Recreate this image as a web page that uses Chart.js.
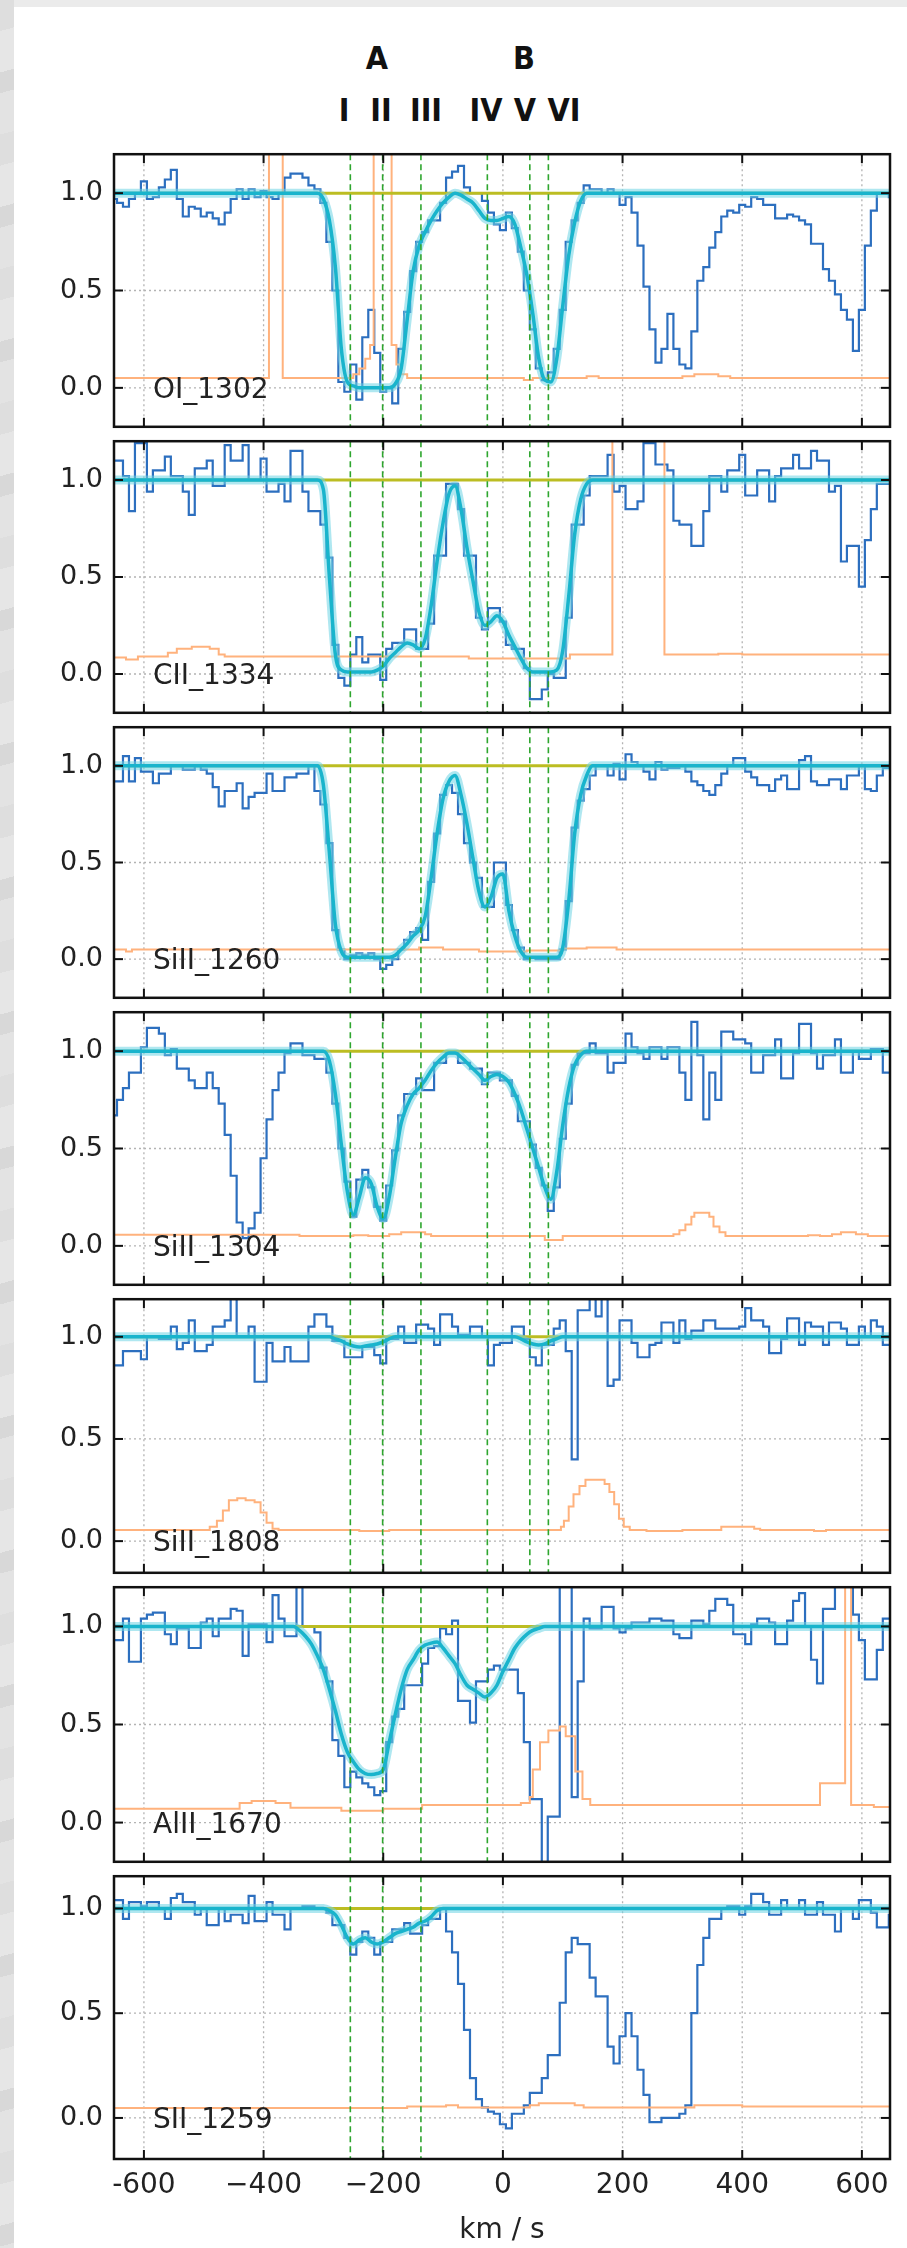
<!DOCTYPE html>
<html>
<head>
<meta charset="utf-8">
<script src="https://cdn.jsdelivr.net/npm/chart.js@4.4.1/dist/chart.umd.min.js"></script>
<style>
  html, body { margin: 0; padding: 0; background: #fff; }
  #page { position: relative; width: 907px; height: 2248px; overflow: hidden; background: #fff; }
  .edge-top { position: absolute; left: 0; top: 0; width: 907px; height: 7px; background: #ebebeb; }
  .edge-left { position: absolute; left: 0; top: 0; width: 14px; height: 2248px;
    background: repeating-linear-gradient(165deg, #dedede 0 30px, #e6e6e6 30px 70px, #d8d8d8 70px 90px, #e3e3e3 90px 130px); }
  .mark { position: absolute; transform: translate(-50%, -50%); font-family: "DejaVu Sans Condensed", "DejaVu Sans", sans-serif;
    font-weight: bold; font-size: 32px; line-height: 1; color: #111; white-space: nowrap; }
  canvas { position: absolute; left: 0; }
</style>
</head>
<body>
<div id="page">
  <div class="edge-top"></div>
  <div class="edge-left"></div>
  <div class="mark" style="left:377px; top:58px;">A</div>
  <div class="mark" style="left:524px; top:58px;">B</div>
  <div class="mark" style="left:344px; top:110px;">I</div>
  <div class="mark" style="left:381px; top:110px;">II</div>
  <div class="mark" style="left:426px; top:110px;">III</div>
  <div class="mark" style="left:486px; top:110px;">IV</div>
  <div class="mark" style="left:525px; top:110px;">V</div>
  <div class="mark" style="left:564px; top:110px;">VI</div>
</div>
<script>
// velocity grid (km/s) shared by all observed spectra
const vel = [
  -650, -640, -630, -620, -610, -600, -590, -580, -570, -560,
  -550, -540, -530, -520, -510, -500, -490, -480, -470, -460,
  -450, -440, -430, -420, -410, -400, -390, -380, -370, -360,
  -350, -340, -330, -320, -310, -300, -290, -280, -270, -260,
  -250, -240, -230, -220, -210, -200, -190, -180, -170, -160,
  -150, -140, -130, -120, -110, -100, -90, -80, -70, -60,
  -50, -40, -30, -20, -10, 0, 10, 20, 30, 40,
  50, 60, 70, 80, 90, 100, 110, 120, 130, 140,
  150, 160, 170, 180, 190, 200, 210, 220, 230, 240,
  250, 260, 270, 280, 290, 300, 310, 320, 330, 340,
  350, 360, 370, 380, 390, 400, 410, 420, 430, 440,
  450, 460, 470, 480, 490, 500, 510, 520, 530, 540,
  550, 560, 570, 580, 590, 600, 610, 620, 630, 640,
  650
];

const xTickValues = [-600, -400, -200, 0, 200, 400, 600];
const xTickLabels = ['-600', '\u2212400', '\u2212200', '0', '200', '400', '600'];
const yTickValues = [0, 0.5, 1.0];
const componentVel = [-255, -201, -137, -26, 45, 76];   // I .. VI
const continuumLevel = 1.0;

// ---- OI 1302 ----
const oiFlux = [
  0.97, 0.95, 0.93, 0.97, 1.0, 1.06, 0.97, 0.98, 1.03, 1.07,
  1.12, 0.97, 0.88, 0.93, 0.92, 0.88, 0.9, 0.87, 0.84, 0.9,
  0.97, 1.02, 0.97, 1.02, 0.98, 1.01, 0.98, 0.97, 1.0, 1.08,
  1.1, 1.1, 1.08, 1.04, 1.02, 0.95, 0.75, 0.5, 0.03, -0.02,
  0.12, -0.06, 0.26, 0.4, 0.18, -0.02, 0.0, -0.08, 0.2, 0.39,
  0.6, 0.75, 0.8, 0.86, 0.86, 0.95, 1.08, 1.11, 1.14, 1.03,
  1.0, 1.0, 0.96, 0.9, 0.84, 0.81, 0.9, 0.82, 0.7, 0.5,
  0.3, 0.1, 0.04, 0.08, 0.2, 0.4, 0.75, 0.86, 0.95, 1.04,
  1.02, 1.02, 1.0, 1.02, 1.0, 0.94, 0.98, 0.9, 0.73, 0.52,
  0.3, 0.13, 0.2, 0.38, 0.2, 0.12, 0.1, 0.29, 0.55, 0.62,
  0.72, 0.8, 0.88, 0.91, 0.9, 0.94, 0.93, 0.98, 0.97, 0.94,
  0.94, 0.87, 0.87, 0.89, 0.88, 0.86, 0.84, 0.74, 0.74, 0.61,
  0.55, 0.48, 0.4, 0.35, 0.19, 0.4, 0.73, 0.91, 1.0, 1.0,
  0.98
];
const oiFit = [
  1.0, 0.97, 0.86, 0.62, 0.2, 0.03, 0.01, 0.0, 0.0, 0.0,
  0.0, 0.0, 0.0, 0.02, 0.1, 0.35, 0.6, 0.73, 0.8, 0.86,
  0.91, 0.95, 0.98, 1.0, 0.99, 0.97, 0.95, 0.91, 0.87, 0.86,
  0.86, 0.87, 0.88, 0.84, 0.72, 0.58, 0.38, 0.15, 0.04, 0.03,
  0.15, 0.42, 0.68, 0.85, 0.96, 1.0, 1.0
];
const oiErrV = [-650, -391, -368, -250, -240, -230, -222, -216, -186, -178, -170, -160, 35, 50, 140, 160, 300, 320, 360, 380, 650];
const oiErrY = [0.05, 2.0, 0.05, 0.07, 0.1, 0.15, 0.22, 2.0, 0.22, 0.12, 0.07, 0.05, 0.04, 0.05, 0.06, 0.05, 0.06, 0.07, 0.06, 0.05, 0.05];

// ---- CII 1334 ----
const ciiFlux = [
  1.1, 1.1, 1.02, 0.84, 1.19, 1.19, 0.94, 1.05, 1.05, 1.12,
  1.02, 1.02, 0.94, 0.82, 1.06, 1.06, 1.1, 0.97, 0.97, 1.18,
  1.1, 1.1, 1.18, 1.0, 1.0, 1.11, 0.94, 0.94, 0.98, 0.89,
  1.15, 1.15, 0.94, 0.84, 0.84, 0.77, 0.6, 0.15, -0.02, -0.06,
  0.1, 0.19, 0.06, 0.1, 0.1, -0.03, 0.13, 0.16, 0.16, 0.23,
  0.23, 0.13, 0.13, 0.26, 0.61, 0.61, 0.98, 0.98, 0.85, 0.61,
  0.61, 0.29, 0.23, 0.34, 0.34, 0.27, 0.15, 0.13, 0.13, 0.03,
  -0.13, -0.13, -0.08, 0.0, -0.02, -0.02, 0.29, 0.77, 0.77, 0.92,
  1.02, 1.02, 1.02, 1.13, 0.94, 0.97, 0.85, 0.85, 0.89, 1.19,
  1.19, 1.08, 1.08, 1.05, 0.79, 0.77, 0.77, 0.66, 0.66, 0.84,
  1.02, 1.02, 0.94, 1.05, 1.05, 1.13, 0.92, 0.92, 1.05, 1.05,
  0.89, 1.02, 1.06, 1.06, 1.13, 1.06, 1.06, 1.15, 1.1, 1.1,
  0.94, 0.97, 0.58, 0.66, 0.66, 0.45, 0.69, 0.85, 0.98, 0.98,
  0.98
];
const ciiFit = [
  1.0, 0.95, 0.5, 0.1, 0.02, 0.01, 0.01, 0.01, 0.01, 0.01,
  0.02, 0.04, 0.08, 0.11, 0.14, 0.16, 0.15, 0.13, 0.18, 0.35,
  0.58, 0.78, 0.93, 0.97, 0.85, 0.65, 0.48, 0.32, 0.25, 0.27,
  0.3, 0.27, 0.2, 0.14, 0.08, 0.03, 0.01, 0.01, 0.01, 0.01,
  0.02, 0.12, 0.4, 0.72, 0.9, 0.98, 1.0
];
const ciiErrV = [-650, -630, -610, -560, -545, -520, -490, -475, -465, -57, 112, 183, 270, 360, 400, 650];
const ciiErrY = [0.085, 0.075, 0.09, 0.11, 0.13, 0.14, 0.13, 0.1, 0.09, 0.08, 0.1, 2.0, 0.1, 0.105, 0.1, 0.1];

// ---- SiII 1260 ----
const si1260Flux = [
  0.92, 0.92, 1.05, 0.92, 1.04, 0.97, 0.97, 0.91, 0.96, 0.96,
  1.0, 1.0, 0.98, 0.98, 1.0, 0.98, 0.96, 0.89, 0.79, 0.87,
  0.87, 0.91, 0.78, 0.84, 0.86, 0.86, 0.96, 0.87, 0.87, 0.94,
  0.94, 0.96, 0.96, 1.0, 0.87, 0.8, 0.6, 0.15, 0.05, 0.0,
  0.02, 0.03, 0.02, 0.03, 0.0, -0.05, -0.03, 0.0, 0.05, 0.1,
  0.14, 0.16, 0.1, 0.4, 0.65, 0.85, 0.9, 0.86, 0.75, 0.6,
  0.5, 0.42, 0.27, 0.27, 0.5, 0.5, 0.28, 0.15, 0.06, 0.0,
  0.01, 0.0, 0.0, 0.0, 0.0, 0.05, 0.3, 0.68, 0.82, 0.88,
  0.95, 1.0, 1.0, 0.95, 1.01, 0.93, 1.06, 1.02, 1.0, 0.97,
  0.93, 1.02, 0.98, 0.99, 0.99, 1.0, 0.97, 0.92, 0.9, 0.87,
  0.85, 0.9, 0.96, 1.0, 1.04, 1.04, 0.97, 0.94, 0.9, 0.9,
  0.87, 0.93, 0.95, 0.88, 0.88, 1.03, 1.05, 0.92, 0.9, 0.9,
  0.93, 0.93, 0.88, 0.95, 0.95, 1.0, 0.88, 0.87, 0.95, 0.99,
  0.99
];
const si1260Fit = [
  1.0, 0.9, 0.55, 0.18, 0.04, 0.01, 0.01, 0.01, 0.01, 0.01,
  0.01, 0.01, 0.01, 0.02, 0.05, 0.08, 0.12, 0.15, 0.22, 0.42,
  0.65, 0.83, 0.92, 0.95, 0.85, 0.7, 0.52, 0.35, 0.27, 0.32,
  0.42, 0.44, 0.25, 0.12, 0.04, 0.01, 0.01, 0.01, 0.01, 0.01,
  0.01, 0.06, 0.3, 0.65, 0.85, 0.95, 1.0
];
const si1260ErrV = [-650, -630, -620, -280, -140, -100, -40, 40, 100, 140, 190, 650];
const si1260ErrY = [0.05, 0.04, 0.05, 0.05, 0.06, 0.05, 0.04, 0.045, 0.055, 0.06, 0.05, 0.05];

// ---- SiII 1304 ----
const si1304Flux = [
  0.67, 0.75, 0.81, 0.89, 0.89, 1.02, 1.12, 1.12, 1.09, 0.98,
  1.01, 0.91, 0.91, 0.85, 0.81, 0.81, 0.89, 0.81, 0.73, 0.57,
  0.36, 0.12, 0.04, 0.09, 0.17, 0.45, 0.65, 0.8, 0.89, 0.99,
  1.04, 1.04, 0.98, 0.98, 0.96, 0.96, 0.89, 0.73, 0.5, 0.33,
  0.15, 0.34, 0.39, 0.3, 0.2, 0.13, 0.31, 0.49, 0.67, 0.78,
  0.78, 0.86, 0.8, 0.8, 0.94, 0.94, 0.99, 0.99, 0.94, 0.94,
  0.91, 0.91, 0.83, 0.89, 0.89, 0.85, 0.85, 0.77, 0.64, 0.64,
  0.52, 0.4, 0.31, 0.18, 0.3, 0.55, 0.73, 0.93, 0.99, 0.99,
  1.04, 0.99, 0.99, 0.89, 0.94, 0.94, 1.09, 1.02, 0.99, 0.96,
  1.02, 1.02, 0.96, 1.02, 1.02, 0.89, 0.75, 1.15, 0.98, 0.65,
  0.89, 0.75, 1.1, 1.1, 1.06, 1.06, 1.04, 0.89, 0.89, 0.98,
  0.98, 1.06, 0.86, 0.86, 0.99, 1.14, 1.14, 0.99, 0.91, 0.98,
  0.98, 1.06, 0.89, 0.89, 1.0, 0.96, 0.96, 1.01, 1.01, 0.89,
  0.89
];
const si1304Fit = [
  1.0, 1.0, 0.95, 0.78, 0.52, 0.28, 0.16, 0.25, 0.35, 0.32,
  0.2, 0.14, 0.25, 0.45, 0.63, 0.72, 0.78, 0.81, 0.85, 0.9,
  0.94, 0.97, 0.99, 0.99, 0.97, 0.94, 0.91, 0.88, 0.85, 0.87,
  0.88, 0.87, 0.84, 0.78, 0.7, 0.6, 0.5, 0.4, 0.3, 0.24,
  0.38, 0.62, 0.81, 0.93, 0.98, 1.0, 1.0
];
const si1304ErrV = [-650, -340, -250, -225, -190, -170, -130, -120, 70, 100, 285, 295, 305, 315, 320, 345, 352, 362, 372, 510, 530, 550, 565, 590, 610, 650];
const si1304ErrY = [0.057, 0.05, 0.055, 0.05, 0.06, 0.07, 0.06, 0.05, 0.03, 0.05, 0.06, 0.08, 0.11, 0.15, 0.17, 0.15, 0.1, 0.07, 0.05, 0.055, 0.05, 0.06, 0.07, 0.06, 0.05, 0.05];

// ---- SiII 1808 ----
const si1808Flux = [
  0.86, 0.86, 0.93, 0.93, 0.93, 0.89, 1.0, 1.0, 0.99, 0.99,
  1.05, 0.94, 0.97, 1.08, 0.93, 0.93, 0.96, 1.05, 1.05, 1.08,
  1.25, 1.0, 1.0, 1.05, 0.78, 0.78, 0.97, 0.88, 0.88, 0.95,
  0.88, 0.88, 0.88, 1.05, 1.11, 1.11, 1.05, 0.98, 0.98, 0.9,
  0.9, 0.9, 0.95, 0.95, 0.91, 0.87, 0.99, 0.99, 1.05, 0.97,
  0.97, 1.06, 1.06, 1.04, 0.96, 1.11, 1.11, 1.05, 1.01, 1.01,
  1.05, 1.05, 1.0, 0.86, 0.96, 0.97, 0.97, 1.05, 1.05, 0.99,
  0.9, 0.86, 0.96, 0.96, 1.04, 1.08, 0.93, 0.4, 1.13, 1.13,
  1.25, 1.1, 1.25, 0.76, 0.79, 1.08, 1.08, 0.97, 0.9, 0.9,
  0.96, 0.97, 1.07, 1.07, 0.97, 1.08, 0.99, 1.03, 1.03, 1.08,
  1.08, 1.04, 1.04, 1.04, 1.04, 1.05, 1.14, 1.08, 1.08, 1.05,
  0.92, 0.92, 0.99, 1.09, 1.09, 0.96, 1.07, 1.05, 1.05, 0.96,
  1.07, 1.07, 1.04, 0.96, 0.96, 1.05, 1.0, 1.08, 1.05, 0.96,
  0.96
];
const si1808Fit = [
  1.0, 0.99, 0.98, 0.965, 0.955, 0.95, 0.955, 0.96, 0.965, 0.975,
  0.99, 1.0, 1.0, 1.0, 1.0, 1.0, 1.0, 1.0, 1.0, 1.0,
  1.0, 1.0, 1.0, 1.0, 1.0, 1.0, 1.0, 1.0, 1.0, 1.0,
  1.0, 1.0, 0.99, 0.975, 0.965, 0.96, 0.965, 0.98, 0.99, 1.0
];
const si1808ErrV = [-650, -490, -478, -468, -458, -444, -430, -415, -405, -395, -385, -375, -240, -190, 97, 102, 110, 118, 128, 138, 170, 178, 186, 194, 202, 212, 240, 300, 365, 420, 430, 520, 540, 650];
const si1808ErrY = [0.055, 0.07, 0.1, 0.15, 0.2, 0.21, 0.2, 0.19, 0.14, 0.09, 0.06, 0.055, 0.05, 0.055, 0.07, 0.1, 0.17, 0.23, 0.27, 0.3, 0.28, 0.24, 0.18, 0.11, 0.07, 0.055, 0.05, 0.055, 0.07, 0.06, 0.055, 0.05, 0.055, 0.055];

// ---- AlII 1670 ----
const al1670Flux = [
  0.93, 0.93, 1.04, 0.82, 0.82, 1.04, 1.06, 1.07, 1.07, 0.96,
  0.91, 0.99, 0.99, 0.89, 0.89, 1.02, 1.04, 0.95, 1.04, 1.04,
  1.09, 1.08, 0.85, 1.01, 1.01, 1.01, 0.92, 1.16, 1.04, 0.95,
  0.95, 1.3, 1.0, 1.0, 0.97, 0.79, 0.72, 0.42, 0.34, 0.18,
  0.26, 0.23, 0.2, 0.18, 0.14, 0.16, 0.41, 0.54, 0.58, 0.7,
  0.7, 0.7, 0.81, 0.89, 0.9, 0.99, 0.96, 1.03, 0.62, 0.62,
  0.51, 0.72, 0.72, 0.78, 0.8, 0.78, 0.78, 0.78, 0.66, 0.41,
  0.12, 0.12, -0.3, 0.03, 0.03, 1.3, 1.3, 0.13, 0.72, 1.04,
  0.99, 0.99, 1.1, 1.1, 0.99, 0.97, 0.99, 1.02, 1.02, 1.02,
  1.04, 1.04, 1.03, 1.03, 0.96, 0.94, 0.94, 1.03, 1.03, 1.01,
  1.08, 1.14, 1.14, 1.11, 0.96, 0.96, 0.91, 1.01, 1.04, 1.04,
  1.02, 0.91, 0.91, 1.03, 1.13, 1.17, 1.0, 0.83, 0.71, 1.09,
  1.09, 1.3, 1.3, 1.3, 1.06, 0.93, 0.73, 0.73, 0.88, 1.04,
  1.04
];
const al1670Fit = [
  1.0, 0.98, 0.95, 0.91, 0.85, 0.78, 0.68, 0.57, 0.45, 0.36,
  0.31, 0.27, 0.25, 0.245, 0.25, 0.27, 0.41, 0.55, 0.68, 0.78,
  0.83, 0.88, 0.905, 0.915, 0.92, 0.89, 0.85, 0.81, 0.75, 0.7,
  0.68, 0.66, 0.64, 0.66, 0.7, 0.77, 0.83, 0.89, 0.93, 0.96,
  0.98, 0.99, 1.0, 1.0
];
const al1670ErrV = [-650, -440, -420, -380, -355, -270, -200, -135, 30, 45, 50, 62, 76, 95, 105, 121, 133, 146, 530, 572, 582, 620, 650];
const al1670ErrY = [0.07, 0.1, 0.11, 0.1, 0.075, 0.06, 0.07, 0.09, 0.1, 0.13, 0.27, 0.41, 0.47, 0.49, 0.44, 0.26, 0.12, 0.09, 0.2, 2.0, 0.09, 0.08, 0.08];

// ---- SII 1259 ----
const siiFlux = [
  1.04, 1.04, 0.95, 1.03, 1.03, 1.01, 1.03, 1.03, 1.0, 0.95,
  1.05, 1.07, 1.03, 1.03, 0.97, 1.0, 0.92, 0.92, 1.0, 0.94,
  0.97, 0.97, 0.93, 1.06, 0.94, 0.94, 1.03, 0.97, 0.97, 0.9,
  1.0, 1.0, 1.01, 1.01, 1.0, 1.0, 0.98, 0.92, 0.92, 0.86,
  0.78, 0.84, 0.89, 0.86, 0.78, 0.84, 0.84, 0.9, 0.9, 0.93,
  0.88, 0.88, 0.92, 0.95, 0.95, 1.0, 0.89, 0.79, 0.64, 0.42,
  0.19, 0.09, 0.05, 0.03, 0.02, -0.03, -0.05, 0.02, 0.02, 0.06,
  0.12, 0.12, 0.19, 0.3, 0.3, 0.55, 0.79, 0.86, 0.83, 0.83,
  0.67, 0.58, 0.58, 0.34, 0.26, 0.39, 0.5, 0.39, 0.23, 0.11,
  -0.02, -0.02, 0.0, 0.0, 0.0, 0.02, 0.06, 0.5, 0.73, 0.86,
  0.95, 0.95, 1.0, 1.01, 1.01, 0.97, 1.01, 1.07, 1.07, 1.03,
  0.97, 0.97, 1.04, 1.0, 1.0, 1.04, 0.97, 0.97, 1.03, 0.97,
  0.97, 0.89, 1.0, 1.0, 0.95, 1.04, 1.04, 0.98, 0.91, 0.91,
  0.97
];
const siiFit = [
  1.0, 1.0, 0.99, 0.97, 0.92, 0.86, 0.83, 0.85, 0.86, 0.84,
  0.83, 0.84, 0.86, 0.88, 0.89, 0.9, 0.91, 0.93, 0.94, 0.96,
  0.99, 1.0, 1.0
];
const siiErrV = [-650, -160, -95, -75, 45, 60, 120, 135, 320, 400, 650];
const siiErrY = [0.047, 0.055, 0.06, 0.05, 0.06, 0.07, 0.06, 0.05, 0.06, 0.055, 0.055];

// panel table: data references + layout (pixel tops/bottoms of each plot box)
const panels = [
  { label: 'OI_1302',   flux: oiFlux,     fit: oiFit,     fitFrom: -310, errV: oiErrV,     errY: oiErrY,     comps: 6, yMin: -0.2,   yMax: 1.2,   top: 147,  bottom: 434 },
  { label: 'CII_1334',  flux: ciiFlux,    fit: ciiFit,    fitFrom: -310, errV: ciiErrV,    errY: ciiErrY,    comps: 6, yMin: -0.2,   yMax: 1.2,   top: 434,  bottom: 720 },
  { label: 'SiII_1260', flux: si1260Flux, fit: si1260Fit, fitFrom: -310, errV: si1260ErrV, errY: si1260ErrY, comps: 6, yMin: -0.2,   yMax: 1.2,   top: 720,  bottom: 1005 },
  { label: 'SiII_1304', flux: si1304Flux, fit: si1304Fit, fitFrom: -310, errV: si1304ErrV, errY: si1304ErrY, comps: 6, yMin: -0.2,   yMax: 1.2,   top: 1005, bottom: 1292 },
  { label: 'SiII_1808', flux: si1808Flux, fit: si1808Fit, fitFrom: -290, errV: si1808ErrV, errY: si1808ErrY, comps: 6, yMin: -0.155, yMax: 1.184, top: 1292, bottom: 1580 },
  { label: 'AlII_1670', flux: al1670Flux, fit: al1670Fit, fitFrom: -350, errV: al1670ErrV, errY: al1670ErrY, comps: 4, yMin: -0.2,   yMax: 1.2,   top: 1580, bottom: 1869 },
  { label: 'SII_1259',  flux: siiFlux,    fit: siiFit,    fitFrom: -310, errV: siiErrV,    errY: siiErrY,    comps: 3, yMin: -0.196, yMax: 1.154, top: 1869, bottom: 2159 }
];

const X_MIN = -650, X_MAX = 647;
const PAD = 20;        // transparent margin above/below each plot box
const AXIS_H = 89;     // room for the x tick labels + title under the last panel
const PAGE_W = 907, AREA_LEFT = 114, AREA_RIGHT = 890;

Chart.defaults.font.family = '"DejaVu Sans", sans-serif';
Chart.defaults.color = '#222';

function strokeLine(ctx, x1, y1, x2, y2) {
  ctx.beginPath();
  ctx.moveTo(x1, y1);
  ctx.lineTo(x2, y2);
  ctx.stroke();
}

// grid, component markers, frame, inward ticks and ion label
const decorPlugin = {
  id: 'decor',
  beforeDatasetsDraw(chart) {
    const { ctx, chartArea: a, scales: { x, y } } = chart;
    ctx.save();
    ctx.strokeStyle = '#b3b3b3';
    ctx.lineWidth = 1.3;
    ctx.setLineDash([2, 3]);
    xTickValues.forEach(v => {
      const px = x.getPixelForValue(v);
      strokeLine(ctx, px, a.top, px, a.bottom);
    });
    yTickValues.forEach(v => {
      const py = y.getPixelForValue(v);
      strokeLine(ctx, a.left, py, a.right, py);
    });
    ctx.restore();
  },
  afterDatasetsDraw(chart, args, opts) {
    const { ctx, chartArea: a, scales: { x, y } } = chart;
    ctx.save();
    // velocity components I..VI
    ctx.strokeStyle = '#2ea62e';
    ctx.lineWidth = 1.6;
    ctx.setLineDash([6, 4]);
    componentVel.slice(0, opts.comps).forEach(v => {
      const px = x.getPixelForValue(v);
      strokeLine(ctx, px, a.top, px, a.bottom);
    });
    ctx.setLineDash([]);
    // frame
    ctx.strokeStyle = '#111';
    ctx.lineWidth = 2.5;
    ctx.strokeRect(a.left, a.top, a.right - a.left, a.bottom - a.top);
    // ticks pointing inwards on all sides
    ctx.lineWidth = 2;
    xTickValues.forEach(v => {
      const px = x.getPixelForValue(v);
      strokeLine(ctx, px, a.bottom, px, a.bottom - 9);
      strokeLine(ctx, px, a.top, px, a.top + 9);
    });
    yTickValues.forEach(v => {
      const py = y.getPixelForValue(v);
      strokeLine(ctx, a.left, py, a.left + 9, py);
      strokeLine(ctx, a.right, py, a.right - 9, py);
    });
    // ion label
    ctx.fillStyle = '#222';
    ctx.font = '28px "DejaVu Sans", sans-serif';
    ctx.textAlign = 'left';
    ctx.textBaseline = 'middle';
    ctx.fillText(opts.label, a.left + 39, y.getPixelForValue(0) + 3);
    ctx.restore();
  }
};

const page = document.getElementById('page');

panels.forEach((p, i) => {
  const last = i === panels.length - 1;
  const canvas = document.createElement('canvas');
  canvas.width = PAGE_W;
  canvas.height = (p.bottom - p.top) + PAD + (last ? AXIS_H : PAD);
  canvas.style.top = (p.top - PAD) + 'px';
  page.appendChild(canvas);

  const fluxPts = vel.map((v, k) => ({ x: v, y: p.flux[k] }));
  const start = vel.indexOf(p.fitFrom);
  const fitPts = [{ x: vel[0], y: continuumLevel }]
    .concat(p.fit.map((f, k) => ({ x: vel[start + k], y: f })))
    .concat([{ x: vel[vel.length - 1], y: continuumLevel }]);
  const contPts = [{ x: vel[0], y: continuumLevel }, { x: vel[vel.length - 1], y: continuumLevel }];
  const errPts = p.errV.map((v, k) => ({ x: v, y: p.errY[k] }));

  new Chart(canvas, {
    type: 'line',
    data: {
      datasets: [
        // first dataset is drawn on top
        { data: fitPts, borderColor: '#19b4cc', borderWidth: 3.5, cubicInterpolationMode: 'monotone', pointRadius: 0, clip: 0 },
        { data: fitPts, borderColor: 'rgba(110, 212, 228, 0.55)', borderWidth: 9, cubicInterpolationMode: 'monotone', pointRadius: 0, clip: 0 },
        { data: contPts, borderColor: '#bcbd22', borderWidth: 3, pointRadius: 0, clip: 0 },
        { data: errPts, borderColor: '#ffb27d', borderWidth: 2, stepped: true, pointRadius: 0, clip: 0 },
        { data: fluxPts, borderColor: '#2c6fbf', borderWidth: 2.2, stepped: 'middle', pointRadius: 0, clip: 0 }
      ]
    },
    options: {
      responsive: false,
      animation: false,
      devicePixelRatio: 1,
      events: [],
      layout: { padding: { top: PAD, bottom: last ? 0 : PAD, left: 0, right: PAGE_W - AREA_RIGHT } },
      plugins: {
        legend: { display: false },
        tooltip: { enabled: false },
        decor: { label: p.label, comps: p.comps }
      },
      scales: {
        x: {
          type: 'linear',
          min: X_MIN,
          max: X_MAX,
          display: last,
          afterBuildTicks: s => { s.ticks = xTickValues.map(v => ({ value: v })); },
          afterFit: s => { if (last) s.height = AXIS_H; },
          grid: { display: false, drawTicks: false },
          border: { display: false },
          ticks: {
            autoSkip: false,
            maxRotation: 0,
            padding: 10,
            color: '#222',
            font: { size: 28 },
            callback: (v, k) => xTickLabels[k]
          },
          title: {
            display: true,
            text: 'km / s',
            color: '#222',
            font: { size: 28 },
            padding: { top: 0, bottom: 0 }
          }
        },
        y: {
          min: p.yMin,
          max: p.yMax,
          afterBuildTicks: s => { s.ticks = yTickValues.map(v => ({ value: v })); },
          afterFit: s => { s.width = AREA_LEFT; },
          grid: { display: false, drawTicks: false },
          border: { display: false },
          ticks: {
            padding: 11,
            color: '#222',
            font: { size: 27 },
            callback: v => Number(v).toFixed(1)
          }
        }
      }
    },
    plugins: [decorPlugin]
  });
});
</script>
</body>
</html>
